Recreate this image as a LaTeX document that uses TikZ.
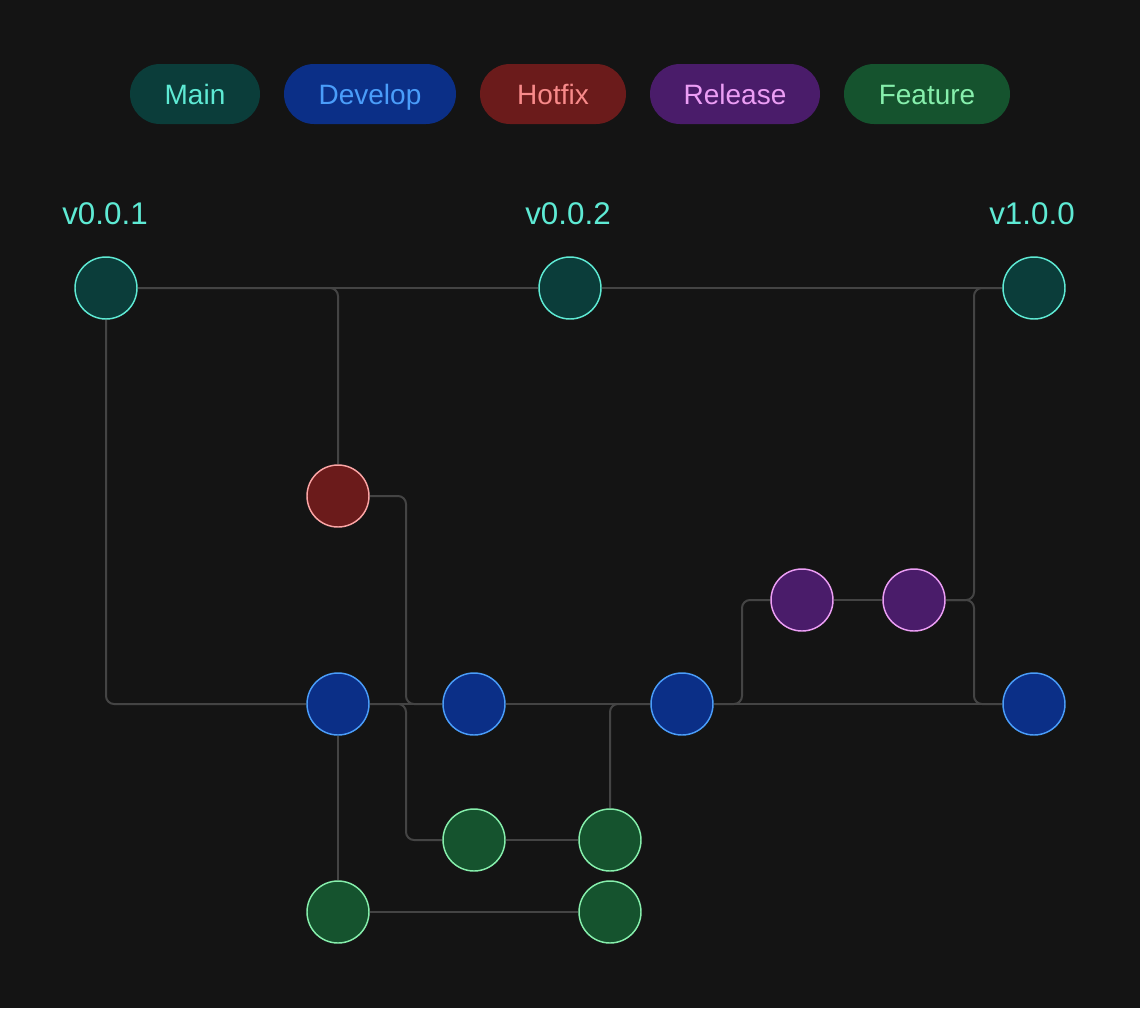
\documentclass[tikz,border=0pt]{standalone}
\usepackage{fontspec}
\setmainfont{Liberation Sans}
\usetikzlibrary{backgrounds}
\definecolor{bgc}{HTML}{141414}
\definecolor{linec}{HTML}{444444}
\definecolor{mainF}{HTML}{0B3D3A}\definecolor{mainT}{HTML}{5EEAD4}
\definecolor{devF}{HTML}{0B2F87}\definecolor{devT}{HTML}{4A9DFA}
\definecolor{hotF}{HTML}{6B1B1B}\definecolor{hotT}{HTML}{F88A8A}
\definecolor{hotS}{HTML}{FCA5A5}
\definecolor{relF}{HTML}{4A1C6A}\definecolor{relT}{HTML}{EC9EF5}
\definecolor{featF}{HTML}{15532E}\definecolor{featT}{HTML}{86EFAC}
\tikzset{
  commit/.style={circle, inner sep=0pt, minimum size=46.5pt, line width=1.1pt},
  cmain/.style={commit, fill=mainF, draw=mainT},
  cdev/.style={commit, fill=devF, draw=devT},
  chot/.style={commit, fill=hotF, draw=hotS},
  crel/.style={commit, fill=relF, draw=relT},
  cfeat/.style={commit, fill=featF, draw=featT},
  pill/.style={rounded corners=22.5pt, minimum height=45pt, inner sep=0pt,
    text height=15pt, text depth=0pt, font=\fontsize{21pt}{24pt}\selectfont},
  tag/.style={text=mainT, inner sep=0pt, text height=17pt, text depth=0pt,
    font=\fontsize{23.5pt}{28pt}\selectfont},
  conn/.style={draw=linec, line width=1.5pt, rounded corners=6pt},
}
\begin{document}
\begin{tikzpicture}[x=0.75pt, y=-0.75pt]
\useasboundingbox (0,0) rectangle (1140,1008);
% legend
\node[pill, fill=mainF, text=mainT, minimum width=97.5pt] (lmain) at (195,94) {Main};
\node[pill, fill=devF, text=devT, minimum width=129pt] (ldev) at (370,94) {Develop};
\node[pill, fill=hotF, text=hotT, minimum width=109.5pt] (lhot) at (553,94) {Hotfix};
\node[pill, fill=relF, text=relT, minimum width=127.5pt] (lrel) at (735,94) {Release};
\node[pill, fill=featF, text=featT, minimum width=124.5pt] (lfeat) at (927,94) {Feature};
% tags
\node[tag] (t1) at (105,213) {v0.0.1};
\node[tag] (t2) at (568,213) {v0.0.2};
\node[tag] (t3) at (1032,213) {v1.0.0};
% commits
\node[cmain] (m1) at (106,288) {};
\node[cmain] (m2) at (570,288) {};
\node[cmain] (m3) at (1034,288) {};
\node[chot] (h) at (338,496) {};
\node[crel] (r1) at (802,600) {};
\node[crel] (r2) at (914,600) {};
\node[cdev] (d1) at (338,704) {};
\node[cdev] (d2) at (474,704) {};
\node[cdev] (d3) at (682,704) {};
\node[cdev] (d4) at (1034,704) {};
\node[cfeat] (f1) at (474,840) {};
\node[cfeat] (f2) at (610,840) {};
\node[cfeat] (f3) at (338,912) {};
\node[cfeat] (f4) at (610,912) {};
\coordinate (lane1) at (406,704);
\coordinate (lane2) at (742,704);
\coordinate (lane3) at (974,600);
% background and connectors
\begin{scope}[on background layer]
\fill[bgc] (0,0) rectangle (1140,1008);
\draw[conn] (m1) -- (m2);
\draw[conn] (m2) -- (m3);
\draw[conn] (m1) |- (d1);
\draw[conn] (m1) -| (h);
\draw[conn] (h) -- (h -| lane1) |- (d2);
\draw[conn] (d1) -- (d1 -| lane1) |- (f1);
\draw[conn] (d1) -- (d2);
\draw[conn] (d2) -- (d3);
\draw[conn] (d3) -- (d4);
\draw[conn] (f2) |- (d3);
\draw[conn] (d3) -- (d3 -| lane2) |- (r1);
\draw[conn] (r1) -- (r2);
\draw[conn] (r2) -- (r2 -| lane3) |- (m3);
\draw[conn] (r2) -- (r2 -| lane3) |- (d4);
\draw[conn] (d1) -- (f3);
\draw[conn] (f3) -- (f4);
\draw[conn] (f1) -- (f2);
\end{scope}
\end{tikzpicture}
\end{document}
